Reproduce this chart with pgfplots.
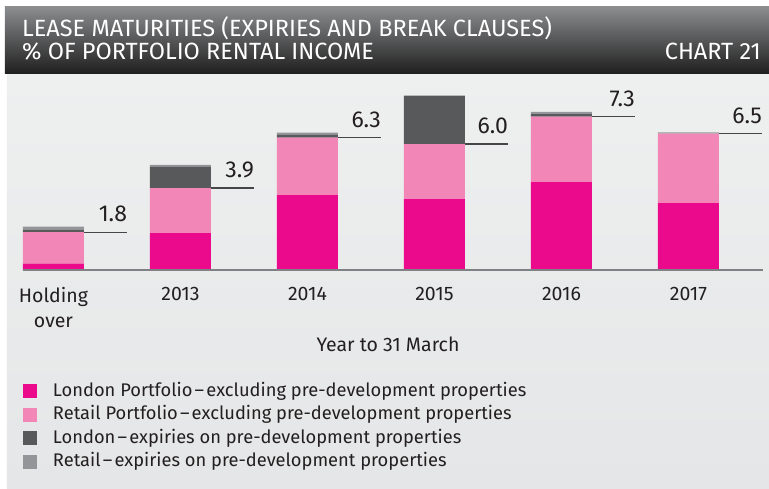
\documentclass[border=0pt]{standalone}
\usepackage{fontspec}
\setmainfont{Fira Sans}
\usepackage{pgfplots}
\pgfplotsset{compat=1.18}
\pgfdeclarelayer{background}
\pgfsetlayers{background,main}

\definecolor{london}{RGB}{236,10,140}
\definecolor{retail}{RGB}{242,135,183}
\definecolor{londondev}{RGB}{88,89,91}
\definecolor{retaildev}{RGB}{147,149,152}
\definecolor{txt}{RGB}{35,31,32}
\definecolor{leader}{RGB}{70,70,72}
\definecolor{baseln}{RGB}{128,129,132}
\definecolor{paneltop}{RGB}{238,239,239}
\definecolor{panelbot}{RGB}{229,230,231}
\definecolor{bartop}{RGB}{140,141,143}
\definecolor{barbot}{RGB}{30,30,30}

\newcommand{\dash}{\hspace{0.12em}--\hspace{0.12em}}

\pgfplotsset{
  frame/.style={
    scale only axis, width=740pt, height=186.9pt,
    xmin=-0.24, xmax=5.587, ymin=0, ymax=8.9,
  }
}

\begin{document}
\begin{tikzpicture}
% stacked bars
\begin{axis}[
    frame,
    ybar stacked, bar width=61pt,
    axis x line=bottom, axis y line=none,
    axis line style={-, draw=baseln, line width=2pt},
    axis on top,
    xtick={0,1,2,3,4,5},
    xticklabels={{Holding\\over},2013,2014,2015,2016,2017},
    major tick length=0pt,
    xticklabel style={align=center, anchor=north, inner sep=0pt, yshift=-17.5pt,
        text=txt, font=\fontsize{19.5}{25}\selectfont},
    xlabel={Year to 31 March},
    xlabel style={at={(axis description cs:0.5,0)}, anchor=base, inner sep=0pt,
        yshift=-81pt, xshift=-5pt, text=txt, font=\fontsize{19.5}{19.5}\selectfont},
    legend style={at={(axis description cs:0,-0.60)}, anchor=north west,
        draw=none, fill=none, inner sep=0pt, outer sep=0pt,
        font=\fontsize{18.3}{18.3}\selectfont, text=txt,
        row sep=5pt,
        nodes={inner sep=0pt, text height=14pt, text depth=4.5pt},
        /tikz/every odd column/.append style={column sep=16pt}},
    legend cell align=left,
    legend image code/.code={\fill[#1,draw=none] (0pt,-7pt) rectangle (14pt,7pt);},
]
\addplot[fill=london, draw=none] coordinates {(0,0.30)(1,1.76)(2,3.57)(3,3.38)(4,4.19)(5,3.19)};
\addlegendentry{London Portfolio\dash excluding pre-development properties}
\addplot[fill=retail, draw=none] coordinates {(0,1.50)(1,2.14)(2,2.73)(3,2.62)(4,3.11)(5,3.31)};
\addlegendentry{Retail Portfolio\dash excluding pre-development properties}
\addplot[fill=londondev, draw=none] coordinates {(0,0.12)(1,1.01)(2,0.13)(3,2.30)(4,0.12)(5,0)};
\addlegendentry{London\dash expiries on pre-development properties}
\addplot[fill=retaildev, draw=none] coordinates {(0,0.14)(1,0.10)(2,0.11)(3,0)(4,0.11)(5,0.05)};
\addlegendentry{Retail\dash expiries on pre-development properties}
\coordinate (O) at (axis cs:-0.24,0);
\end{axis}

% leader lines and totals
\begin{axis}[frame, hide axis, clip=false]
\addplot[draw=leader, line width=1.3pt, unbounded coords=jump] coordinates {
(0.24,1.8)(0.58,1.8)(0.6,inf)
(1.24,3.9)(1.58,3.9)(1.6,inf)
(2.24,6.3)(2.58,6.3)(2.6,inf)
(3.24,6.0)(3.58,6.0)(3.6,inf)
(4.24,7.3)(4.58,7.3)(4.6,inf)
(5.24,6.5)(5.58,6.5)
};
\addplot[draw=none, mark=none, nodes near coords, point meta=y,
    every node near coord/.style={anchor=south east, inner sep=0pt, yshift=10pt,
        text=txt, font=\fontsize{23}{23}\selectfont},
    /pgf/number format/.cd, fixed, fixed zerofill, precision=1, assume math mode=true]
  coordinates {(0.58,1.8)(1.58,3.9)(2.58,6.3)(3.58,6.0)(4.58,7.3)(5.58,6.5)};
\end{axis}

% page background and title bar, in reference pixels relative to the plot corner
\begin{scope}[shift={(O)}, x=1pt, y=1pt]
\begin{pgfonlayer}{background}
\fill[white] (-23,270) rectangle (746,-218);
\shade[top color=paneltop, bottom color=panelbot] (-16,196) rectangle (746,-218);
\shade[top color=bartop, bottom color=barbot] (-18,263.5) rectangle (746,196);
\end{pgfonlayer}
\node[anchor=base west, inner sep=0pt, text=white, font=\fontsize{23.5}{23.5}\selectfont]
  at (-1,233.5) {LEASE MATURITIES (EXPIRIES AND BREAK CLAUSES)};
\node[anchor=base west, inner sep=0pt, text=white, font=\fontsize{23.5}{23.5}\selectfont]
  at (-1,210) {\% OF PORTFOLIO RENTAL INCOME};
\node[anchor=base east, inner sep=0pt, text=white, font=\fontsize{23.5}{23.5}\selectfont]
  at (738,210) {CHART 21};
\end{scope}
\end{tikzpicture}
\end{document}
